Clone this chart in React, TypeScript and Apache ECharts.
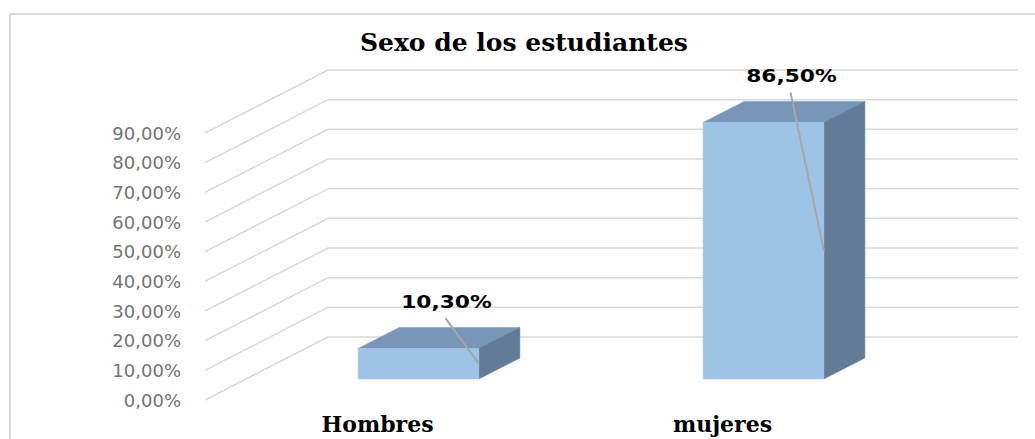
import React, { useEffect, useRef } from "react";
import * as echarts from "echarts";

const categories = ["Hombres", "mujeres"];
const values = [10.3, 86.5];
const ticks = [0, 10, 20, 30, 40, 50, 60, 70, 80, 90];
const titleText = "Sexo de los estudiantes";

const DX = 123;
const DY = -63;

const fmt = (v: number) => v.toFixed(2).replace(".", ",") + "%";

export default function App() {
  const ref = useRef<HTMLDivElement>(null);
  useEffect(() => {
    if (!ref.current) return;
    const chart = echarts.init(ref.current, undefined, { renderer: "svg" });
    chart.setOption({
      animation: false,
      backgroundColor: "#ffffff",
      title: {
        text: titleText,
        left: 360,
        top: 30,
        padding: 0,
        textStyle: {
          fontFamily: "DejaVu Serif",
          fontWeight: "bold",
          fontSize: 25,
          color: "#000000",
        },
      },
      graphic: [
        {
          type: "rect",
          shape: { x: 10, y: 14, width: 1100, height: 500 },
          style: { fill: "none", stroke: "#d9d9d9", lineWidth: 2 },
          silent: true,
        },
      ],
      grid: { left: 205, right: 140, top: 133, bottom: 39 },
      xAxis: {
        type: "category",
        data: categories,
        axisLine: { show: false },
        axisTick: { show: false },
        splitLine: { show: false },
        axisLabel: {
          margin: 13,
          fontFamily: "DejaVu Serif",
          fontWeight: "bold",
          fontSize: 22,
          color: "#000000",
        },
      },
      yAxis: {
        type: "value",
        min: 0,
        max: 90,
        interval: 10,
        axisLine: { show: false },
        axisTick: { show: false },
        splitLine: { show: false },
        axisLabel: {
          margin: 24,
          formatter: (v: number) => fmt(v),
          fontFamily: "DejaVu Sans",
          fontSize: 18,
          color: "#737373",
        },
      },
      series: [
        {
          type: "custom",
          silent: true,
          z: 1,
          data: ticks.map((t) => [0, t]),
          encode: { x: 0, y: 1 },
          renderItem: (params: any, api: any) => {
            const p = api.coord([0, api.value(1)]);
            const cs = params.coordSys;
            const y = p[1];
            const x0 = cs.x;
            const xr = cs.x + cs.width;
            return {
              type: "polyline",
              shape: {
                points: [
                  [x0, y],
                  [x0 + DX, y + DY],
                  [xr + DX, y + DY],
                ],
              },
              style: { stroke: "#d9d9d9", lineWidth: 1.5, fill: "none" },
            };
          },
        },
        {
          type: "custom",
          z: 5,
          data: values.map((v, i) => [i, v]),
          encode: { x: 0, y: 1 },
          renderItem: (params: any, api: any) => {
            const idx = api.value(0);
            const val = api.value(1);
            const base = api.coord([idx, 0]);
            const top = api.coord([idx, val]);
            const band = api.size([1, 0])[0];
            const w = band * 0.35;
            const fx = DX / 3;
            const fy = DY / 3;
            const cx = base[0] + fx;
            const l = cx - w / 2;
            const r = cx + w / 2;
            const t = top[1] + fy;
            const b = base[1] + fy;
            const lx = cx + 28;
            const ly = t - 46;
            return {
              type: "group",
              children: [
                {
                  type: "polygon",
                  shape: { points: [[l, t], [r, t], [r + fx, t + fy], [l + fx, t + fy]] },
                  style: { fill: "#7896B8", stroke: "#7896B8", lineWidth: 0.5 },
                },
                {
                  type: "polygon",
                  shape: { points: [[r, t], [r + fx, t + fy], [r + fx, b + fy], [r, b]] },
                  style: { fill: "#637B96", stroke: "#637B96", lineWidth: 0.5 },
                },
                {
                  type: "rect",
                  shape: { x: l, y: t, width: w, height: b - t },
                  style: { fill: "#9DC3E6", stroke: "#9DC3E6", lineWidth: 0.5 },
                },
                {
                  type: "line",
                  shape: { x1: lx - 1, y1: ly + 16, x2: r, y2: (t + b) / 2 },
                  style: { stroke: "#a6a6a6", lineWidth: 2 },
                },
                {
                  type: "text",
                  x: lx,
                  y: ly,
                  scaleX: 1.28,
                  style: {
                    text: fmt(val),
                    fontFamily: "DejaVu Sans",
                    fontWeight: "bold",
                    fontSize: 17,
                    fill: "#000000",
                    align: "center",
                    verticalAlign: "middle",
                  },
                },
              ],
            };
          },
        },
      ],
    });
    return () => chart.dispose();
  }, []);
  return (
    <div
      ref={ref}
      style={{ position: "fixed", left: 0, top: 0, width: 1035, height: 439 }}
    />
  );
}
